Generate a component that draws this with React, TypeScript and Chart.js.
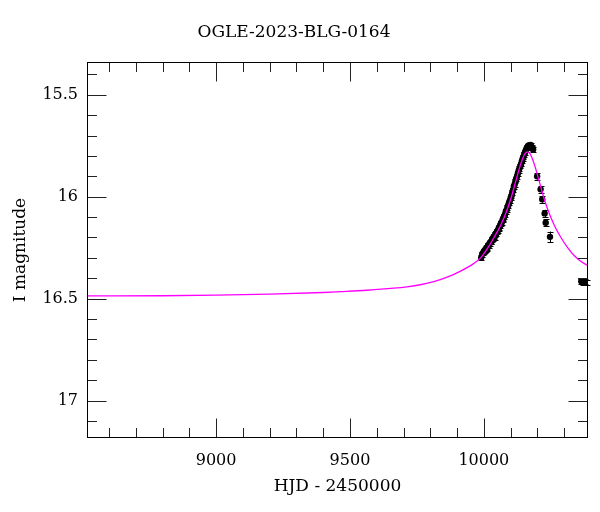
import React, { useEffect, useRef } from "react";
import { Chart, registerables } from "chart.js";

Chart.register(...registerables);

// Model light curve
const modelHJD = [8518, 8800, 9000, 9200, 9400, 9463, 9563, 9663, 9713, 9763, 9813, 9863, 9913, 9963, 9988, 10013, 10038, 10063, 10088, 10103, 10118, 10133, 10143, 10153, 10163, 10173, 10183, 10193, 10208, 10223, 10238, 10263, 10288, 10313, 10338, 10363, 10392];
const modelMag = [16.487, 16.486, 16.483, 16.478, 16.47, 16.466, 16.459, 16.449, 16.442, 16.432, 16.417, 16.395, 16.365, 16.327, 16.3, 16.255, 16.2, 16.14, 16.06, 16.0, 15.93, 15.86, 15.82, 15.79, 15.78, 15.79, 15.82, 15.86, 15.93, 16.0, 16.06, 16.14, 16.2, 16.25, 16.29, 16.318, 16.34];

// Photometry
const dataHJD = [9990, 9994, 9997, 10001, 10004, 10007, 10010, 10013, 10016, 10019, 10022, 10025, 10028, 10031, 10034, 10037, 10040, 10043, 10046, 10049, 10052, 10055, 10058, 10061, 10064, 10067, 10070, 10073, 10076, 10079, 10082, 10085, 10088, 10091, 10094, 10097, 10100, 10103, 10106, 10109, 10112, 10115, 10118, 10121, 10124, 10127, 10130, 10133, 10136, 10139, 10142, 10145, 10148, 10151, 10154, 10157, 10160, 10163, 10166, 10169, 10172, 10175, 10178, 10181, 10184, 10199, 10212, 10218, 10227, 10231, 10247, 10364, 10370, 10376, 10382, 10386];
const dataMag = [16.3, 16.282, 16.276, 16.268, 16.262, 16.258, 16.25, 16.252, 16.238, 16.24, 16.228, 16.222, 16.222, 16.208, 16.206, 16.196, 16.198, 16.184, 16.18, 16.17, 16.168, 16.156, 16.15, 16.142, 16.13, 16.126, 16.114, 16.108, 16.096, 16.088, 16.072, 16.066, 16.052, 16.044, 16.03, 16.02, 16.006, 15.996, 15.98, 15.968, 15.95, 15.94, 15.924, 15.912, 15.9, 15.886, 15.872, 15.862, 15.85, 15.84, 15.826, 15.814, 15.804, 15.792, 15.782, 15.772, 15.762, 15.756, 15.75, 15.748, 15.752, 15.746, 15.756, 15.762, 15.768, 15.9, 15.964, 16.013, 16.082, 16.128, 16.197, 16.415, 16.42, 16.418, 16.422, 16.42];
const dataErr = [0.012, 0.012, 0.012, 0.012, 0.012, 0.012, 0.012, 0.012, 0.012, 0.012, 0.012, 0.012, 0.012, 0.012, 0.012, 0.012, 0.012, 0.012, 0.012, 0.012, 0.012, 0.012, 0.012, 0.012, 0.012, 0.012, 0.012, 0.012, 0.012, 0.012, 0.011, 0.011, 0.011, 0.011, 0.011, 0.011, 0.011, 0.011, 0.011, 0.011, 0.011, 0.011, 0.011, 0.011, 0.011, 0.011, 0.011, 0.011, 0.011, 0.011, 0.011, 0.011, 0.011, 0.011, 0.011, 0.011, 0.011, 0.011, 0.011, 0.011, 0.011, 0.011, 0.011, 0.011, 0.011, 0.016, 0.016, 0.017, 0.018, 0.018, 0.026, 0.012, 0.012, 0.012, 0.012, 0.012];

// Axes
const xMin = 8518;
const xMax = 10389;
const yMin = 15.339;
const yMax = 17.184;
const xMajorTicks = [9000, 9500, 10000];
const xMinorStep = 100;
const yMajorTicks = [15.5, 16, 16.5, 17];
const yMinorStep = 0.1;

const TITLE = "OGLE-2023-BLG-0164";
const X_TITLE = "HJD - 2450000";
const Y_TITLE = "I magnitude";

const FONT = "DejaVu Serif";

const errorBarPlugin = {
  id: "errorBars",
  beforeDatasetsDraw(chart: any) {
    const ctx = chart.ctx;
    const xs = chart.scales.x;
    const ys = chart.scales.y;
    ctx.save();
    ctx.strokeStyle = "#000";
    ctx.lineWidth = 1;
    for (let i = 0; i < dataHJD.length; i++) {
      const px = xs.getPixelForValue(dataHJD[i]);
      const p1 = ys.getPixelForValue(dataMag[i] - dataErr[i]);
      const p2 = ys.getPixelForValue(dataMag[i] + dataErr[i]);
      const cx = Math.round(px) + 0.5;
      ctx.beginPath();
      ctx.moveTo(cx, p1);
      ctx.lineTo(cx, p2);
      ctx.moveTo(cx - 3, Math.round(p1) + 0.5);
      ctx.lineTo(cx + 3, Math.round(p1) + 0.5);
      ctx.moveTo(cx - 3, Math.round(p2) + 0.5);
      ctx.lineTo(cx + 3, Math.round(p2) + 0.5);
      ctx.stroke();
    }
    ctx.restore();
  },
};

const framePlugin = {
  id: "frame",
  afterDraw(chart: any) {
    const ctx = chart.ctx;
    const { left, right, top, bottom } = chart.chartArea;
    const xs = chart.scales.x;
    const ys = chart.scales.y;
    const L = left + 0.5;
    const R = right - 0.5;
    const T = top + 0.5;
    const B = bottom - 0.5;
    ctx.save();
    ctx.strokeStyle = "#222";
    ctx.lineWidth = 1;
    ctx.beginPath();
    const isMajor = (v: number, arr: number[]) => arr.some((m) => Math.abs(m - v) < 1e-6);
    for (let v = Math.ceil(xMin / xMinorStep) * xMinorStep; v <= xMax; v += xMinorStep) {
      const len = isMajor(v, xMajorTicks) ? 19 : 9.5;
      const px = Math.round(xs.getPixelForValue(v)) + 0.5;
      ctx.moveTo(px, B);
      ctx.lineTo(px, B - len);
      ctx.moveTo(px, T);
      ctx.lineTo(px, T + len);
    }
    for (let k = Math.ceil(yMin / yMinorStep); k * yMinorStep <= yMax; k++) {
      const v = Math.round(k * yMinorStep * 10) / 10;
      const len = isMajor(v, yMajorTicks) ? 19 : 9.5;
      const py = Math.round(ys.getPixelForValue(v)) + 0.5;
      ctx.moveTo(L, py);
      ctx.lineTo(L + len, py);
      ctx.moveTo(R, py);
      ctx.lineTo(R - len, py);
    }
    ctx.stroke();
    ctx.strokeStyle = "#000";
    ctx.strokeRect(L, T, R - L, B - T);
    ctx.restore();
  },
};

export default function App() {
  const canvasRef = useRef<HTMLCanvasElement | null>(null);

  useEffect(() => {
    const canvas = canvasRef.current;
    if (!canvas) return;
    const chart = new Chart(canvas, {
      type: "scatter",
      data: {
        datasets: [
          {
            label: "model",
            data: modelHJD.map((x, i) => ({ x, y: modelMag[i] })),
            showLine: true,
            borderColor: "#ff00ff",
            borderWidth: 1.3,
            pointRadius: 0,
            cubicInterpolationMode: "monotone",
            fill: false,
            order: 0,
          } as any,
          {
            label: "data",
            data: dataHJD.map((x, i) => ({ x, y: dataMag[i] })),
            backgroundColor: "#000",
            borderColor: "#000",
            borderWidth: 0,
            pointRadius: 3.2,
            order: 1,
          },
        ],
      },
      options: {
        animation: false,
        responsive: false,
        maintainAspectRatio: false,
        events: [],
        layout: { padding: { left: 0, right: 12, top: 0, bottom: 0 } },
        plugins: {
          legend: { display: false },
          tooltip: { enabled: false },
          title: {
            display: true,
            text: TITLE,
            color: "#000",
            font: { family: FONT, size: 17, weight: "normal" },
            padding: { top: 22, bottom: 19.6 },
          },
        },
        scales: {
          x: {
            type: "linear",
            min: xMin,
            max: xMax,
            grid: { display: false, drawTicks: false },
            border: { display: false },
            ticks: {
              color: "#000",
              font: { family: FONT, size: 16 },
              padding: 13,
              maxRotation: 0,
              callback: (v: any) => String(v),
            },
            afterBuildTicks: (s: any) => {
              s.ticks = xMajorTicks.map((v) => ({ value: v }));
            },
            afterFit: (s: any) => {
              s.height = 74;
            },
            title: {
              display: true,
              text: X_TITLE,
              color: "#000",
              font: { family: FONT, size: 17 },
              padding: { top: 0, bottom: 15 },
            },
          },
          y: {
            type: "linear",
            reverse: true,
            min: yMin,
            max: yMax,
            grid: { display: false, drawTicks: false },
            border: { display: false },
            ticks: {
              color: "#000",
              font: { family: FONT, size: 16 },
              padding: 9,
              callback: (v: any) => String(v),
            },
            afterBuildTicks: (s: any) => {
              s.ticks = yMajorTicks.map((v) => ({ value: v }));
            },
            afterFit: (s: any) => {
              s.width = 87;
            },
            title: {
              display: true,
              text: Y_TITLE,
              color: "#000",
              font: { family: FONT, size: 17 },
              padding: { top: 10, bottom: 0 },
            },
          },
        },
      },
      plugins: [errorBarPlugin, framePlugin],
    });
    return () => chart.destroy();
  }, []);

  return (
    <div style={{ position: "absolute", left: 0, top: 0, width: 600, height: 512, background: "#fff" }}>
      <canvas ref={canvasRef} width={600} height={512} style={{ width: 600, height: 512 }} />
    </div>
  );
}
